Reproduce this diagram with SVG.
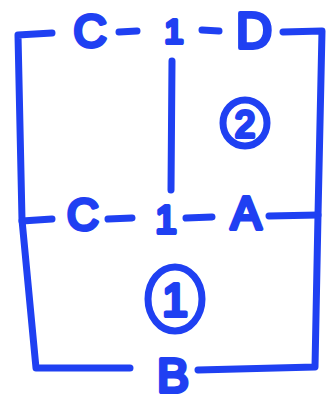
<svg xmlns="http://www.w3.org/2000/svg" width="326" height="405" viewBox="0 0 326 405">
<style>
.w{fill:none;stroke:#1f40f2;stroke-width:7;stroke-linecap:round;stroke-linejoin:round}
.t{font-family:"Liberation Sans",Arial,sans-serif;fill:#1f40f2;stroke:#1f40f2;stroke-width:4;stroke-linejoin:round;text-anchor:middle}
</style>
<rect width="326" height="405" fill="#fff"/>
<g id="connectors" class="w">
<path d="M52,33 L18,35 L22,220 L36,368 L130,368"/>
<line x1="119" y1="32" x2="137" y2="31"/>
<line x1="202" y1="30" x2="219" y2="31"/>
<path d="M283,32 L322,31 L318,215 L315,367 L198,370"/>
<path d="M172,61 L171,190"/>
<line x1="22" y1="221" x2="52" y2="219"/>
<line x1="108" y1="219" x2="132" y2="218"/>
<line x1="186" y1="218" x2="212" y2="217"/>
<line x1="269" y1="216" x2="318" y2="215"/>
</g>
<g id="node-c-top"><text class="t" x="90" y="47" font-size="46">C</text></g>
<g id="node-1-top"><text class="t" x="174" y="43" font-size="34">1</text></g>
<g id="node-d"><text class="t" x="254" y="48" font-size="50">D</text></g>
<g id="node-c-mid"><text class="t" x="83" y="230" font-size="44">C</text></g>
<g id="node-1-mid"><text class="t" x="166" y="233" font-size="38">1</text></g>
<g id="node-a"><text class="t" x="246" y="229" font-size="46">A</text></g>
<g id="node-b"><text class="t" x="173" y="392" font-size="48">B</text></g>
<g id="region-2"><ellipse class="w" cx="245" cy="123" rx="22" ry="23"/><text class="t" x="245" y="137" font-size="36" stroke-width="3">2</text></g>
<g id="region-1"><ellipse class="w" cx="175" cy="299" rx="27" ry="32"/><text class="t" x="175" y="316" font-size="46" stroke-width="3">1</text></g>
</svg>
